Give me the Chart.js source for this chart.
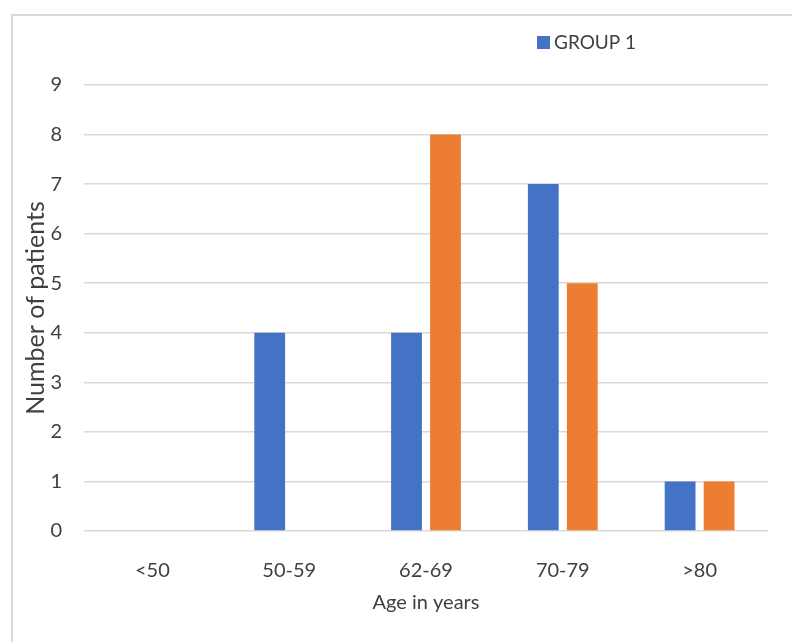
<!DOCTYPE html>
<html>
<head>
<meta charset="utf-8">
<script src="https://cdn.jsdelivr.net/npm/chart.js@4.4.1/dist/chart.umd.min.js"></script>
<style>
  html, body { margin: 0; padding: 0; background: #ffffff; }
  #wrap { position: relative; width: 792px; height: 642px; overflow: hidden; }
  #frame { position: absolute; left: 11px; top: 14px; width: 900px; height: 800px;
           border: 2px solid #d9d9d9; }
  #c { position: absolute; left: 0; top: 0; }
</style>
</head>
<body>
<div id="wrap">
  <div id="frame"></div>
  <canvas id="c" width="792" height="642"></canvas>
</div>
<script>
// Age bands on the horizontal axis
const ageGroups = ['<50', '50-59', '62-69', '70-79', '>80'];
// Patient counts per age band
const group1 = [0, 4, 4, 7, 1];
const group2 = [0, 0, 8, 5, 1];
// Vertical axis range
const yMin = 0;
const yMax = 9;
const yStep = 1;

const textColor = '#404040';
const fontFamily = 'Lato, "Open Sans", sans-serif';

// Legend showing only the first series, placed above the plot
const singleLegend = {
  id: 'singleLegend',
  afterDraw(chart) {
    const ds = chart.data.datasets[0];
    const ctx = chart.ctx;
    ctx.save();
    ctx.fillStyle = ds.backgroundColor;
    ctx.fillRect(537, 36, 13, 13);
    ctx.fillStyle = textColor;
    ctx.font = '19px ' + fontFamily;
    ctx.textBaseline = 'middle';
    ctx.textAlign = 'left';
    ctx.fillText(ds.label, 554, 43);
    ctx.restore();
  }
};

new Chart(document.getElementById('c'), {
  type: 'bar',
  data: {
    labels: ageGroups,
    datasets: [
      { label: 'GROUP 1', data: group1, backgroundColor: '#4472C4' },
      { label: 'GROUP 2', data: group2, backgroundColor: '#ED7D31' }
    ]
  },
  options: {
    responsive: false,
    animation: false,
    categoryPercentage: 0.57,
    barPercentage: 0.79,
    layout: { padding: { left: 0, right: 24, top: 85, bottom: 0 } },
    plugins: {
      legend: { display: false },
      tooltip: { enabled: false }
    },
    scales: {
      x: {
        grid: { display: false },
        border: { display: false },
        ticks: { color: textColor, font: { family: fontFamily, size: 20 }, padding: 20, maxRotation: 0 },
        title: {
          display: true, text: 'Age in years', color: textColor,
          font: { family: fontFamily, size: 20 }, padding: { top: 0, bottom: 27 }
        },
        afterFit(scale) { scale.height = 111; }
      },
      y: {
        min: yMin, max: yMax,
        grid: { color: '#d9d9d9', lineWidth: 1.5, drawTicks: false },
        border: { display: false },
        ticks: { stepSize: yStep, color: textColor, font: { family: fontFamily, size: 20 }, padding: 22 },
        title: {
          display: true, text: 'Number of patients', color: textColor,
          font: { family: fontFamily, size: 25 }, padding: { top: 21, bottom: 0 }
        },
        afterFit(scale) { scale.width = 84; }
      }
    }
  },
  plugins: [singleLegend]
});
</script>
</body>
</html>
